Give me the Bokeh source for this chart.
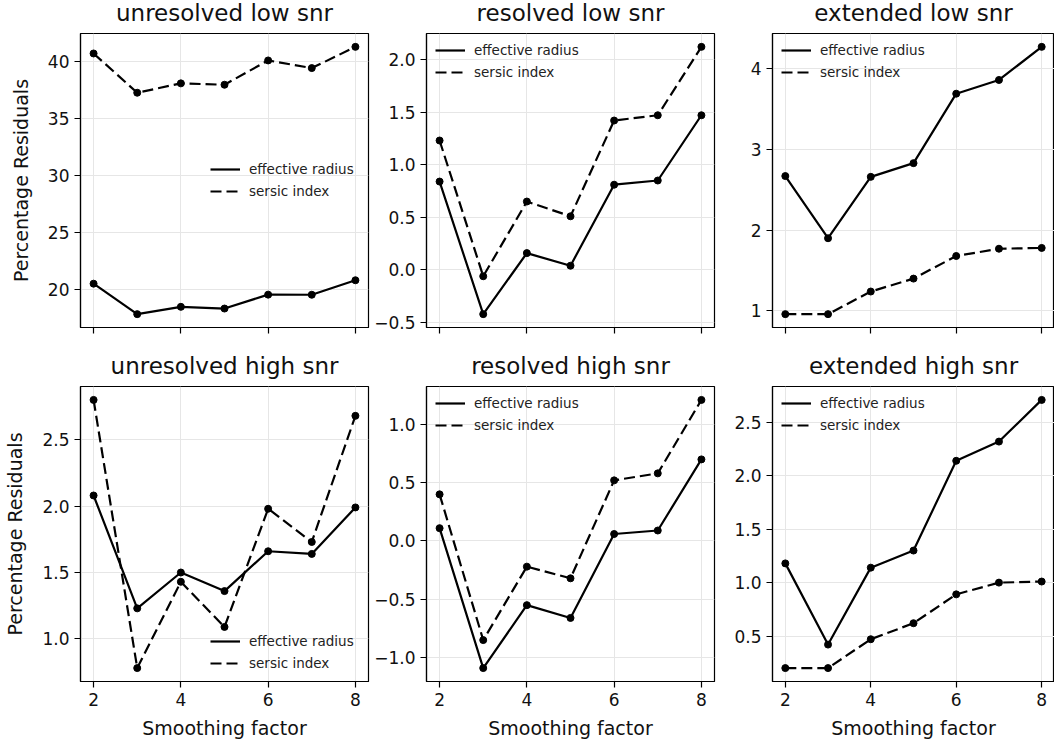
from bokeh.plotting import figure
from bokeh.layouts import column, row
from bokeh.models import FixedTicker, CustomJSTickFormatter, Legend, LegendItem
from bokeh.embed import file_html
from bokeh.resources import INLINE

# Smoothing factors on the x axis
smoothing = [2, 3, 4, 5, 6, 7, 8]
x_ticks = [2, 4, 6, 8]

series_labels = ["effective radius", "sersic index"]

# Percentage residuals per morphology class and signal-to-noise regime
unres_low_reff = [20.49, 17.82, 18.46, 18.31, 19.53, 19.52, 20.79]
unres_low_sersic = [40.67, 37.23, 38.05, 37.93, 40.06, 39.39, 41.25]

res_low_reff = [0.84, -0.42, 0.16, 0.04, 0.81, 0.85, 1.47]
res_low_sersic = [1.23, -0.06, 0.65, 0.51, 1.42, 1.47, 2.12]

ext_low_reff = [2.67, 1.90, 2.66, 2.83, 3.69, 3.86, 4.27]
ext_low_sersic = [0.96, 0.96, 1.24, 1.40, 1.68, 1.77, 1.78]

unres_high_reff = [2.08, 1.23, 1.50, 1.36, 1.66, 1.64, 1.99]
unres_high_sersic = [2.80, 0.78, 1.43, 1.09, 1.98, 1.73, 2.68]

res_high_reff = [0.11, -1.09, -0.55, -0.66, 0.06, 0.09, 0.70]
res_high_sersic = [0.40, -0.85, -0.22, -0.32, 0.52, 0.58, 1.21]

ext_high_reff = [1.18, 0.42, 1.14, 1.30, 2.14, 2.32, 2.71]
ext_high_sersic = [0.20, 0.20, 0.47, 0.62, 0.89, 1.00, 1.01]

# y tick values and the number of decimals shown on each panel
ticks_unres_low = [20, 25, 30, 35, 40]
ticks_res_low = [-0.5, 0.0, 0.5, 1.0, 1.5, 2.0]
ticks_ext_low = [1, 2, 3, 4]
ticks_unres_high = [1.0, 1.5, 2.0, 2.5]
ticks_res_high = [-1.0, -0.5, 0.0, 0.5, 1.0]
ticks_ext_high = [0.5, 1.0, 1.5, 2.0, 2.5]

titles = [
    "unresolved low snr", "resolved low snr", "extended low snr",
    "unresolved high snr", "resolved high snr", "extended high snr",
]

FONT = "DejaVu Sans"
INK = "#111111"

COL_WIDTH = [370, 346, 338]
COL_LEFT = [80, 56, 56]
COL_RIGHT = [2, 2, 0]
# the first row starts a few px above the page top (negative margin on the layout)
TOP_SHIFT = 11
ROW_HEIGHT = [340 + TOP_SHIFT, 409]
ROW_TOP = [32 + TOP_SHIFT, 46]
ROW_BOTTOM = [13, 68]
TITLE_STANDOFF = [16, 15]


def tick_formatter(decimals):
    return CustomJSTickFormatter(
        args=dict(d=decimals),
        code="const s = Math.abs(tick).toFixed(d); return (tick < -1e-9 ? '\u2212' : '') + s;",
    )


def panel(title, reff, sersic, yticks, ydec, col, rowi, legend_loc):
    values = reff + sersic
    lo, hi = min(values), max(values)
    pad = 0.05 * (hi - lo)
    p = figure(
        width=COL_WIDTH[col], height=ROW_HEIGHT[rowi],
        x_range=(1.7, 8.3), y_range=(lo - pad, hi + pad),
        output_backend="svg", toolbar_location=None,
        min_border_left=COL_LEFT[col], min_border_right=COL_RIGHT[col],
        min_border_top=ROW_TOP[rowi], min_border_bottom=ROW_BOTTOM[rowi],
    )
    p.title.text = title
    p.title.align = "center"
    p.title.text_font = FONT
    p.title.text_font_size = "23px"
    p.title.text_font_style = "normal"
    p.title.text_color = INK
    p.title.standoff = TITLE_STANDOFF[rowi]

    p.outline_line_color = "black"
    p.outline_line_width = 1.2
    p.background_fill_color = "white"
    p.border_fill_color = "white"

    for ax in (p.xaxis[0], p.yaxis[0]):
        ax.axis_line_color = "black"
        ax.axis_line_width = 1.2
        ax.major_tick_line_color = "black"
        ax.major_tick_line_width = 1.2
        ax.major_tick_out = 6
        ax.major_tick_in = 0
        ax.minor_tick_line_color = None
        ax.major_label_text_font = FONT
        ax.major_label_text_font_size = "17px"
        ax.major_label_text_color = INK
        ax.axis_label_text_font = FONT
        ax.axis_label_text_font_size = "19px"
        ax.axis_label_text_font_style = "normal"
        ax.axis_label_text_color = INK

    p.xaxis.ticker = FixedTicker(ticks=x_ticks)
    p.xaxis.formatter = tick_formatter(0)
    p.yaxis.ticker = FixedTicker(ticks=yticks)
    p.yaxis.formatter = tick_formatter(ydec)
    p.xgrid.ticker = FixedTicker(ticks=x_ticks)
    p.ygrid.ticker = FixedTicker(ticks=yticks)
    p.grid.grid_line_color = "#e6e6e6"
    p.grid.grid_line_width = 1

    if rowi == 0:
        # shared x axis: tick marks only on the upper row
        p.xaxis.major_label_text_font_size = "1px"
        p.xaxis.major_label_text_color = None
        p.xaxis.major_label_standoff = 0
    else:
        p.xaxis.axis_label = "Smoothing factor"
        p.xaxis.axis_label_standoff = 8
        p.xaxis.major_label_standoff = 5
    if col == 0:
        p.yaxis.axis_label = "Percentage Residuals"
        p.yaxis.axis_label_standoff = 13
    p.yaxis.major_label_standoff = 5

    r_reff = p.line(smoothing, reff, line_color="black", line_width=2.2)
    p.scatter(smoothing, reff, size=7, color="black")
    r_ser = p.line(smoothing, sersic, line_color="black", line_width=2.2, line_dash="11 5")
    p.scatter(smoothing, sersic, size=7, color="black")

    legend = Legend(
        items=[
            LegendItem(label=series_labels[0], renderers=[r_reff]),
            LegendItem(label=series_labels[1], renderers=[r_ser]),
        ],
        location=legend_loc,
        margin=9, padding=6, spacing=6,
        glyph_width=30, glyph_height=14, label_height=14, label_standoff=9,
        label_text_font=FONT, label_text_font_size="13.5px", label_text_color="#222222",
        background_fill_alpha=0, border_line_color=None,
    )
    p.add_layout(legend)
    return p


p1 = panel(titles[0], unres_low_reff, unres_low_sersic, ticks_unres_low, 0, 0, 0, (130, 128))
p2 = panel(titles[1], res_low_reff, res_low_sersic, ticks_res_low, 1, 1, 0, "top_left")
p3 = panel(titles[2], ext_low_reff, ext_low_sersic, ticks_ext_low, 0, 2, 0, "top_left")
p4 = panel(titles[3], unres_high_reff, unres_high_sersic, ticks_unres_high, 1, 0, 1, (130, 10))
p5 = panel(titles[4], res_high_reff, res_high_sersic, ticks_res_high, 1, 1, 1, "top_left")
p6 = panel(titles[5], ext_high_reff, ext_high_sersic, ticks_ext_high, 1, 2, 1, "top_left")

layout = column(row(p1, p2, p3), row(p4, p5, p6), margin=(-TOP_SHIFT, 0, 0, 0))

open("out.html", "w").write(file_html(layout, INLINE))
